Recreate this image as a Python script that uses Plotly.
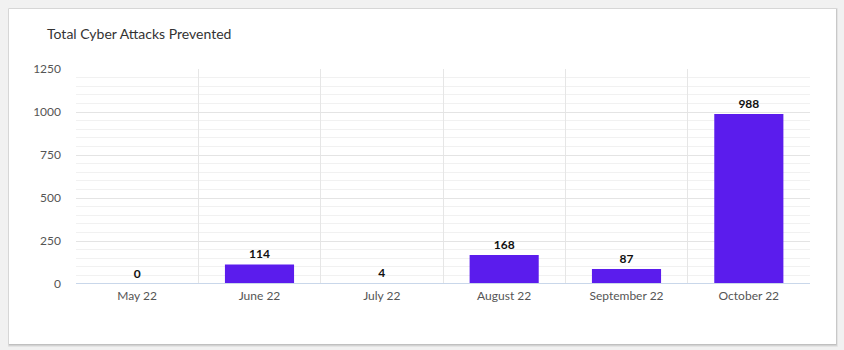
import plotly.graph_objects as go

months = ["May 22", "June 22", "July 22", "August 22", "September 22", "October 22"]
attacks = [0, 114, 4, 168, 87, 988]

W, H = 844, 350
L, R, T, B = 76, 34, 69, 66
pw, ph = W - L - R, H - T - B


def px_x(x):
    return (x - L) / pw


def px_y(y):
    return (H - B - y) / ph


fig = go.Figure(
    go.Bar(
        x=months,
        y=attacks,
        marker=dict(color="#5b1ced", line=dict(width=0)),
        text=[str(v) for v in attacks],
        textposition="outside",
        textfont=dict(family="Lato, Arial, sans-serif", size=12, color="#111111", weight="bold"),
        cliponaxis=False,
        hoverinfo="x+y",
    )
)

# card with soft drop shadow
shapes = []
for off, alpha in [(3, 0.05), (2, 0.07), (1, 0.09)]:
    shapes.append(dict(
        type="rect", xref="paper", yref="paper", layer="below",
        x0=px_x(9 - off * 0.3), x1=px_x(836 + off * 0.6),
        y0=px_y(344 + off), y1=px_y(9 - off * 0.3),
        fillcolor=f"rgba(0,0,0,{alpha})", line=dict(width=0),
    ))
shapes.append(dict(
    type="rect", xref="paper", yref="paper", layer="below",
    x0=px_x(9), x1=px_x(836), y0=px_y(344), y1=px_y(9),
    fillcolor="#ffffff", line=dict(width=0),
))
# baseline drawn over the bars
shapes.append(dict(
    type="line", xref="paper", yref="y", layer="above",
    x0=0, x1=1, y0=0, y1=0,
    line=dict(color="#c9d7ea", width=2),
))

fig.update_layout(
    width=W, height=H,
    margin=dict(l=L, r=R, t=T, b=B),
    paper_bgcolor="#f1f1f1",
    plot_bgcolor="#ffffff",
    shapes=shapes,
    bargap=0.435,
    showlegend=False,
    font=dict(family="Lato, Arial, sans-serif", color="#555555", size=12),
    title=dict(
        text="Total Cyber Attacks Prevented",
        x=47 / W, xanchor="left",
        y=1 - 34 / H, yanchor="middle",
        font=dict(family="Lato, Arial, sans-serif", size=14, color="#333333"),
    ),
    xaxis=dict(
        type="category",
        tickson="boundaries",
        showgrid=True, gridcolor="#e6e6e6", gridwidth=1,
        ticks="", showline=False,
        ticklabelstandoff=3,
        tickfont=dict(size=12, color="#555555"),
        range=[-0.5, 5.5],
    ),
    yaxis=dict(
        range=[0, 1250], dtick=250,
        showgrid=True, gridcolor="#e4e4e4", gridwidth=1,
        minor=dict(dtick=50, showgrid=True, gridcolor="#f1f1f1", gridwidth=1),
        zeroline=False,
        ticks="", ticklabelstandoff=14,
        tickfont=dict(size=12, color="#555555"),
    ),
)

fig.write_html("out.html")
